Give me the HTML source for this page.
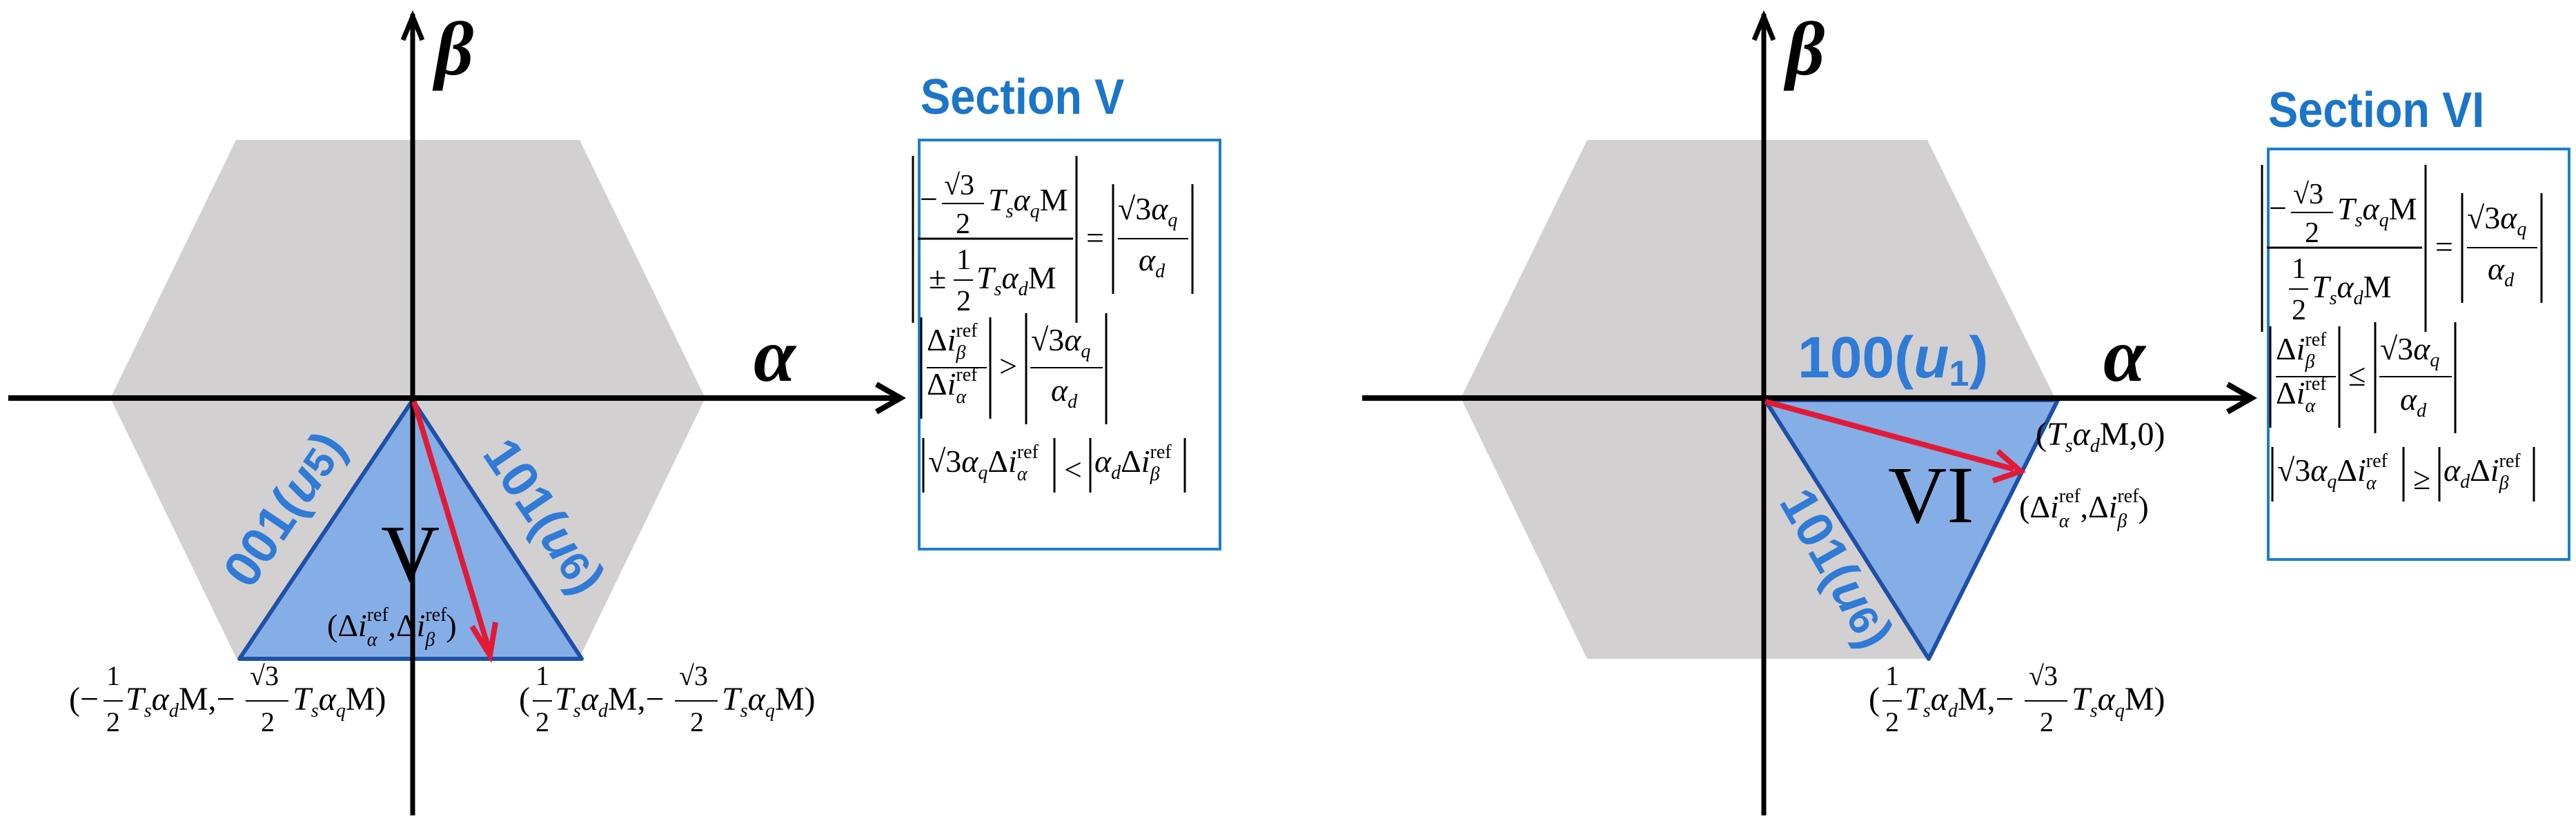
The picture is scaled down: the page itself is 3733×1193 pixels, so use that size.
<!DOCTYPE html>
<html><head><meta charset="utf-8"><style>
html,body{margin:0;padding:0;background:#fff}
svg{display:block}
text{font-family:"Liberation Serif",serif;fill:#000}
.v{font-style:italic}
.t{font-family:"Liberation Sans",sans-serif;font-weight:bold;fill:#1b75c9}
.lab{font-family:"Liberation Sans",sans-serif;font-weight:bold;fill:#2f7bd6}
</style></head><body>
<svg width="3733" height="1193" viewBox="0 0 3733 1193" xmlns="http://www.w3.org/2000/svg">
<!-- LEFT PANEL -->
<polygon points="342,203 840,203 1022,577 840,953 342,953 160,577" fill="#d3d0d1"/>
<polygon points="598,580 347,955 843,955" fill="#86aee6" stroke="#1d50a6" stroke-width="6" stroke-linejoin="round"/>
<line x1="598" y1="20" x2="598" y2="1182" stroke="#000" stroke-width="7"/>
<polyline points="584,58 598,24 612,58" fill="none" stroke="#000" stroke-width="7"/>
<line x1="12" y1="577" x2="1305" y2="577" stroke="#000" stroke-width="8"/>
<polyline points="1270,557 1305,577 1270,597" fill="none" stroke="#000" stroke-width="8"/>
<line x1="600" y1="582" x2="708" y2="940" stroke="#e21a35" stroke-width="8"/>
<polyline points="684,908 710,950 718,902" fill="none" stroke="#e21a35" stroke-width="8"/>
<text x="630" y="108" font-size="110" font-weight="bold" class="v">β</text>
<text x="1092" y="552" font-size="110" font-weight="bold" class="v">α</text>
<text x="552" y="842" font-size="118">V</text>
<text class="lab" font-size="74" transform="translate(433,752) rotate(-56)" text-anchor="middle">001(<tspan font-style="italic">u</tspan><tspan font-size="60">5</tspan>)</text>
<text class="lab" font-size="74" transform="translate(768,762) rotate(56)" text-anchor="middle">101(<tspan font-style="italic">u</tspan><tspan font-size="60">6</tspan>)</text>
<text x="474" y="922" font-size="46">(Δ<tspan class="v">i</tspan><tspan font-size="28" dy="-22">ref</tspan><tspan font-size="28" class="v" dx="-31" dy="36">α</tspan><tspan dx="16" dy="-14">,Δ</tspan><tspan class="v">i</tspan><tspan font-size="28" dy="-22">ref</tspan><tspan font-size="28" class="v" dx="-31" dy="36">β</tspan><tspan dx="16" dy="-14">)</tspan></text>
<!-- left bottom label -->
<g font-size="48">
<text x="100" y="1029">(−</text>
<text x="154" y="993" font-size="40">1</text><line x1="150" y1="1016" x2="178" y2="1016" stroke="#000" stroke-width="2"/><text x="154" y="1060" font-size="40">2</text>
<text x="182" y="1029"><tspan class="v">T</tspan><tspan font-size="28" class="v" dy="10">s</tspan><tspan class="v" dy="-10">α</tspan><tspan font-size="28" class="v" dy="10">d</tspan><tspan dy="-10">M,−</tspan></text>
<text x="362" y="993" font-size="40">√3</text><line x1="356" y1="1016" x2="418" y2="1016" stroke="#000" stroke-width="2"/><text x="378" y="1060" font-size="40">2</text>
<text x="424" y="1029"><tspan class="v">T</tspan><tspan font-size="28" class="v" dy="10">s</tspan><tspan class="v" dy="-10">α</tspan><tspan font-size="28" class="v" dy="10">q</tspan><tspan dy="-10">M)</tspan></text>
</g>
<g font-size="48">
<text x="752" y="1029">(</text>
<text x="776" y="993" font-size="40">1</text><line x1="772" y1="1016" x2="800" y2="1016" stroke="#000" stroke-width="2"/><text x="776" y="1060" font-size="40">2</text>
<text x="804" y="1029"><tspan class="v">T</tspan><tspan font-size="28" class="v" dy="10">s</tspan><tspan class="v" dy="-10">α</tspan><tspan font-size="28" class="v" dy="10">d</tspan><tspan dy="-10">M,−</tspan></text>
<text x="984" y="993" font-size="40">√3</text><line x1="978" y1="1016" x2="1040" y2="1016" stroke="#000" stroke-width="2"/><text x="1000" y="1060" font-size="40">2</text>
<text x="1046" y="1029"><tspan class="v">T</tspan><tspan font-size="28" class="v" dy="10">s</tspan><tspan class="v" dy="-10">α</tspan><tspan font-size="28" class="v" dy="10">q</tspan><tspan dy="-10">M)</tspan></text>
</g>
<!-- Section V -->
<text class="t" font-size="72" transform="translate(1334,165) scale(0.9,1)">Section V</text>
<rect x="1332" y="203" width="436" height="593" fill="none" stroke="#1b7fd0" stroke-width="4"/>
<g font-size="46">
<line x1="1323" y1="226" x2="1323" y2="468" stroke="#000" stroke-width="3"/>
<line x1="1560" y1="226" x2="1560" y2="468" stroke="#000" stroke-width="3"/>
<text x="1333" y="304">−</text>
<text x="1368" y="282" font-size="42">√3</text><line x1="1365" y1="295" x2="1426" y2="295" stroke="#000" stroke-width="2"/><text x="1385" y="338" font-size="42">2</text>
<text x="1432" y="305"><tspan class="v">T</tspan><tspan font-size="28" class="v" dy="10">s</tspan><tspan class="v" dy="-10">α</tspan><tspan font-size="28" class="v" dy="10">q</tspan><tspan dy="-10">M</tspan></text>
<line x1="1330" y1="346" x2="1555" y2="346" stroke="#000" stroke-width="3"/>
<text x="1346" y="418">±</text>
<text x="1386" y="390" font-size="42">1</text><line x1="1382" y1="406" x2="1410" y2="406" stroke="#000" stroke-width="2"/><text x="1386" y="450" font-size="42">2</text>
<text x="1415" y="418"><tspan class="v">T</tspan><tspan font-size="28" class="v" dy="10">s</tspan><tspan class="v" dy="-10">α</tspan><tspan font-size="28" class="v" dy="10">d</tspan><tspan dy="-10">M</tspan></text>
<text x="1574" y="360">=</text>
<line x1="1613" y1="267" x2="1613" y2="426" stroke="#000" stroke-width="3"/>
<line x1="1728" y1="267" x2="1728" y2="426" stroke="#000" stroke-width="3"/>
<text x="1620" y="318">√3<tspan class="v">α</tspan><tspan font-size="28" class="v" dy="10">q</tspan></text>
<line x1="1620" y1="346" x2="1722" y2="346" stroke="#000" stroke-width="2"/>
<text x="1650" y="392"><tspan class="v">α</tspan><tspan font-size="28" class="v" dy="10">d</tspan></text>
<line x1="1335" y1="460" x2="1335" y2="607" stroke="#000" stroke-width="3"/>
<line x1="1435" y1="460" x2="1435" y2="607" stroke="#000" stroke-width="3"/>
<text x="1343" y="508">Δ<tspan class="v">i</tspan><tspan font-size="28" dy="-20">ref</tspan><tspan font-size="28" class="v" dx="-31" dy="32">β</tspan></text>
<line x1="1343" y1="533" x2="1430" y2="533" stroke="#000" stroke-width="2"/>
<text x="1343" y="572">Δ<tspan class="v">i</tspan><tspan font-size="28" dy="-20">ref</tspan><tspan font-size="28" class="v" dx="-31" dy="32">α</tspan></text>
<text x="1448" y="546">&gt;</text>
<line x1="1487" y1="454" x2="1487" y2="615" stroke="#000" stroke-width="3"/>
<line x1="1603" y1="454" x2="1603" y2="615" stroke="#000" stroke-width="3"/>
<text x="1494" y="508">√3<tspan class="v">α</tspan><tspan font-size="28" class="v" dy="10">q</tspan></text>
<line x1="1493" y1="533" x2="1598" y2="533" stroke="#000" stroke-width="2"/>
<text x="1523" y="581"><tspan class="v">α</tspan><tspan font-size="28" class="v" dy="10">d</tspan></text>
<line x1="1338" y1="635" x2="1338" y2="714" stroke="#000" stroke-width="3"/>
<line x1="1528" y1="635" x2="1528" y2="714" stroke="#000" stroke-width="3"/>
<line x1="1580" y1="635" x2="1580" y2="714" stroke="#000" stroke-width="3"/>
<line x1="1717" y1="635" x2="1717" y2="714" stroke="#000" stroke-width="3"/>
<text x="1345" y="684">√3<tspan class="v">α</tspan><tspan font-size="28" class="v" dy="10">q</tspan><tspan dy="-10">Δ</tspan><tspan class="v">i</tspan><tspan font-size="28" dy="-20">ref</tspan><tspan font-size="28" class="v" dx="-31" dy="32">α</tspan></text>
<text x="1542" y="696">&lt;</text>
<text x="1586" y="684"><tspan class="v">α</tspan><tspan font-size="28" class="v" dy="10">d</tspan><tspan dy="-10">Δ</tspan><tspan class="v">i</tspan><tspan font-size="28" dy="-20">ref</tspan><tspan font-size="28" class="v" dx="-31" dy="32">β</tspan></text>
</g>

<!-- RIGHT PANEL -->
<polygon points="2300,203 2793,203 2978,577 2793,955 2300,955 2117,577" fill="#d3d0d1"/>
<polygon points="2558,580 2982,580 2795,955" fill="#86aee6" stroke="#1d50a6" stroke-width="6" stroke-linejoin="round"/>
<line x1="2556" y1="20" x2="2556" y2="1182" stroke="#000" stroke-width="7"/>
<polyline points="2542,58 2556,24 2570,58" fill="none" stroke="#000" stroke-width="7"/>
<line x1="1974" y1="577" x2="3262" y2="577" stroke="#000" stroke-width="8"/>
<polyline points="3228,557 3263,577 3228,597" fill="none" stroke="#000" stroke-width="8"/>
<line x1="2558" y1="582" x2="2918" y2="680" stroke="#e21a35" stroke-width="8"/>
<polyline points="2895,654 2928,683 2888,697" fill="none" stroke="#e21a35" stroke-width="8"/>
<text x="2588" y="108" font-size="110" font-weight="bold" class="v">β</text>
<text x="3048" y="552" font-size="110" font-weight="bold" class="v">α</text>
<text x="2736" y="757" font-size="118">VI</text>
<text class="lab" x="2605" y="547" font-size="84">100(<tspan font-style="italic">u</tspan><tspan font-size="52" dy="12">1</tspan><tspan dy="-12">)</tspan></text>
<text class="lab" font-size="74" transform="translate(2640,836) rotate(60)" text-anchor="middle">101(<tspan font-style="italic">u</tspan><tspan font-size="60">6</tspan>)</text>
<text x="2950" y="645" font-size="48">(<tspan class="v">T</tspan><tspan font-size="28" class="v" dy="10">s</tspan><tspan class="v" dy="-10">α</tspan><tspan font-size="28" class="v" dy="10">d</tspan><tspan dy="-10">M,0)</tspan></text>
<text x="2926" y="750" font-size="46">(Δ<tspan class="v">i</tspan><tspan font-size="28" dy="-22">ref</tspan><tspan font-size="28" class="v" dx="-31" dy="36">α</tspan><tspan dx="16" dy="-14">,Δ</tspan><tspan class="v">i</tspan><tspan font-size="28" dy="-22">ref</tspan><tspan font-size="28" class="v" dx="-31" dy="36">β</tspan><tspan dx="16" dy="-14">)</tspan></text>
<g font-size="48">
<text x="2708" y="1029">(</text>
<text x="2732" y="993" font-size="40">1</text><line x1="2728" y1="1016" x2="2756" y2="1016" stroke="#000" stroke-width="2"/><text x="2732" y="1060" font-size="40">2</text>
<text x="2760" y="1029"><tspan class="v">T</tspan><tspan font-size="28" class="v" dy="10">s</tspan><tspan class="v" dy="-10">α</tspan><tspan font-size="28" class="v" dy="10">d</tspan><tspan dy="-10">M,−</tspan></text>
<text x="2940" y="993" font-size="40">√3</text><line x1="2934" y1="1016" x2="2996" y2="1016" stroke="#000" stroke-width="2"/><text x="2956" y="1060" font-size="40">2</text>
<text x="3002" y="1029"><tspan class="v">T</tspan><tspan font-size="28" class="v" dy="10">s</tspan><tspan class="v" dy="-10">α</tspan><tspan font-size="28" class="v" dy="10">q</tspan><tspan dy="-10">M)</tspan></text>
</g>
<text class="t" font-size="72" transform="translate(3287,184) scale(0.9,1)">Section VI</text>
<rect x="3287" y="216" width="436" height="595" fill="none" stroke="#1b7fd0" stroke-width="4"/>
<g font-size="46" transform="translate(1955,13)">
<line x1="1323" y1="226" x2="1323" y2="468" stroke="#000" stroke-width="3"/>
<line x1="1560" y1="226" x2="1560" y2="468" stroke="#000" stroke-width="3"/>
<text x="1333" y="304">−</text>
<text x="1368" y="282" font-size="42">√3</text><line x1="1365" y1="295" x2="1426" y2="295" stroke="#000" stroke-width="2"/><text x="1385" y="338" font-size="42">2</text>
<text x="1432" y="305"><tspan class="v">T</tspan><tspan font-size="28" class="v" dy="10">s</tspan><tspan class="v" dy="-10">α</tspan><tspan font-size="28" class="v" dy="10">q</tspan><tspan dy="-10">M</tspan></text>
<line x1="1330" y1="346" x2="1555" y2="346" stroke="#000" stroke-width="3"/>
<text x="1366" y="390" font-size="42">1</text><line x1="1362" y1="406" x2="1390" y2="406" stroke="#000" stroke-width="2"/><text x="1366" y="450" font-size="42">2</text>
<text x="1395" y="418"><tspan class="v">T</tspan><tspan font-size="28" class="v" dy="10">s</tspan><tspan class="v" dy="-10">α</tspan><tspan font-size="28" class="v" dy="10">d</tspan><tspan dy="-10">M</tspan></text>
<text x="1574" y="360">=</text>
<line x1="1613" y1="267" x2="1613" y2="426" stroke="#000" stroke-width="3"/>
<line x1="1728" y1="267" x2="1728" y2="426" stroke="#000" stroke-width="3"/>
<text x="1620" y="318">√3<tspan class="v">α</tspan><tspan font-size="28" class="v" dy="10">q</tspan></text>
<line x1="1620" y1="346" x2="1722" y2="346" stroke="#000" stroke-width="2"/>
<text x="1650" y="392"><tspan class="v">α</tspan><tspan font-size="28" class="v" dy="10">d</tspan></text>
<line x1="1335" y1="460" x2="1335" y2="607" stroke="#000" stroke-width="3"/>
<line x1="1435" y1="460" x2="1435" y2="607" stroke="#000" stroke-width="3"/>
<text x="1343" y="508">Δ<tspan class="v">i</tspan><tspan font-size="28" dy="-20">ref</tspan><tspan font-size="28" class="v" dx="-31" dy="32">β</tspan></text>
<line x1="1343" y1="533" x2="1430" y2="533" stroke="#000" stroke-width="2"/>
<text x="1343" y="572">Δ<tspan class="v">i</tspan><tspan font-size="28" dy="-20">ref</tspan><tspan font-size="28" class="v" dx="-31" dy="32">α</tspan></text>
<text x="1448" y="546">≤</text>
<line x1="1487" y1="454" x2="1487" y2="615" stroke="#000" stroke-width="3"/>
<line x1="1603" y1="454" x2="1603" y2="615" stroke="#000" stroke-width="3"/>
<text x="1494" y="508">√3<tspan class="v">α</tspan><tspan font-size="28" class="v" dy="10">q</tspan></text>
<line x1="1493" y1="533" x2="1598" y2="533" stroke="#000" stroke-width="2"/>
<text x="1523" y="581"><tspan class="v">α</tspan><tspan font-size="28" class="v" dy="10">d</tspan></text>
<line x1="1338" y1="635" x2="1338" y2="714" stroke="#000" stroke-width="3"/>
<line x1="1528" y1="635" x2="1528" y2="714" stroke="#000" stroke-width="3"/>
<line x1="1580" y1="635" x2="1580" y2="714" stroke="#000" stroke-width="3"/>
<line x1="1717" y1="635" x2="1717" y2="714" stroke="#000" stroke-width="3"/>
<text x="1345" y="684">√3<tspan class="v">α</tspan><tspan font-size="28" class="v" dy="10">q</tspan><tspan dy="-10">Δ</tspan><tspan class="v">i</tspan><tspan font-size="28" dy="-20">ref</tspan><tspan font-size="28" class="v" dx="-31" dy="32">α</tspan></text>
<text x="1542" y="696">≥</text>
<text x="1586" y="684"><tspan class="v">α</tspan><tspan font-size="28" class="v" dy="10">d</tspan><tspan dy="-10">Δ</tspan><tspan class="v">i</tspan><tspan font-size="28" dy="-20">ref</tspan><tspan font-size="28" class="v" dx="-31" dy="32">β</tspan></text>
</g>
</svg>
</body></html>
